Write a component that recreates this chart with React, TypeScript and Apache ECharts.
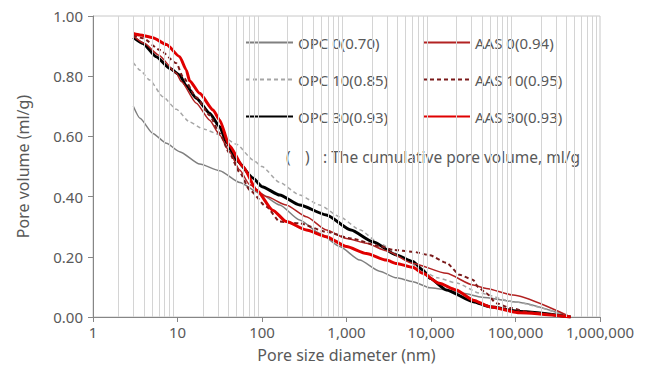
import React, { useEffect, useRef } from "react";
import * as echarts from "echarts";

const opc0: [number, number][] = [
  [3, 0.7], [3.6, 0.66], [5.1, 0.61], [7.4, 0.577], [10.6, 0.549], [18.3, 0.508], [31.6, 0.486],
  [54.5, 0.447], [94, 0.411], [162, 0.372], [279, 0.322], [482, 0.278], [831, 0.234], [1432, 0.189],
  [2460, 0.152], [3900, 0.13], [6100, 0.117], [9700, 0.097], [15200, 0.09], [24000, 0.079],
  [40000, 0.066], [100000, 0.05], [450000, 0],
];
const opc10: [number, number][] = [
  [3, 0.845], [3.6, 0.82], [4.7, 0.787], [6.7, 0.732], [9.7, 0.69], [13.9, 0.648], [20, 0.625],
  [31.6, 0.606], [50, 0.574], [78, 0.522], [100, 0.5], [160, 0.448], [279, 0.405], [482, 0.372],
  [831, 0.333], [1432, 0.29], [2500, 0.243], [5000, 0.192], [8000, 0.152], [12000, 0.13],
  [20000, 0.113], [38000, 0.079], [93000, 0.051], [450000, 0],
];
const opc30: [number, number][] = [
  [3, 0.929], [3.9, 0.909], [5.6, 0.865], [8.1, 0.826], [10.6, 0.804], [12.7, 0.768], [16.7, 0.727],
  [24, 0.677], [31.6, 0.632], [38, 0.58], [50, 0.52], [78, 0.462], [100, 0.433], [162, 0.405],
  [279, 0.372], [577, 0.339], [1130, 0.289], [2060, 0.25], [3900, 0.206], [6100, 0.184],
  [8000, 0.156], [9700, 0.129], [15200, 0.09], [31600, 0.051], [49500, 0.034], [112000, 0.018],
  [450000, 0],
];
const aas0: [number, number][] = [
  [3, 0.934], [4, 0.91], [6, 0.87], [9.7, 0.81], [11.1, 0.782], [16.7, 0.71], [24, 0.654],
  [31.6, 0.605], [41, 0.55], [54.5, 0.488], [71.6, 0.439], [113, 0.4], [194, 0.372], [335, 0.333],
  [577, 0.289], [1000, 0.261], [1720, 0.245], [2960, 0.22], [6100, 0.178], [15200, 0.145],
  [31600, 0.106], [45000, 0.095], [93500, 0.073], [450000, 0],
];
const aas10: [number, number][] = [
  [3, 0.937], [3.9, 0.926], [6.2, 0.887], [9.7, 0.843], [11.6, 0.798], [16.7, 0.73], [24, 0.67],
  [31.6, 0.61], [41, 0.545], [54.5, 0.48], [71.6, 0.422], [113, 0.366], [162, 0.317], [279, 0.311],
  [577, 0.283], [1130, 0.261], [2460, 0.236], [3560, 0.223], [6100, 0.217], [9700, 0.205],
  [15200, 0.18], [21900, 0.14], [31600, 0.123], [36000, 0.1], [45000, 0.079], [59000, 0.046],
  [86000, 0.03], [150000, 0.015], [450000, 0],
];
const aas30: [number, number][] = [
  [3, 0.942], [3.6, 0.937], [5.1, 0.928], [7.4, 0.905], [10.6, 0.865], [12.7, 0.821], [13.9, 0.785],
  [18.3, 0.743], [26.3, 0.688], [31.6, 0.654], [41, 0.57], [59.5, 0.5], [86, 0.422], [134, 0.355],
  [194, 0.317], [335, 0.289], [577, 0.267], [1000, 0.234], [1720, 0.211], [2960, 0.189],
  [3900, 0.178], [6100, 0.165], [8000, 0.145], [12500, 0.112], [19800, 0.09], [31600, 0.056],
  [49500, 0.034], [112000, 0.014], [450000, 0],
];

const seriesNames = ["OPC 0(0.70)", "OPC 10(0.85)", "OPC 30(0.93)", "AAS 0(0.94)", "AAS 10(0.95)", "AAS 30(0.93)"];
const minorGridValues: number[] = [];
for (let e = 0; e < 6; e++) {
  for (let m = 2; m <= 9; m++) minorGridValues.push(m * Math.pow(10, e));
}

const FONT = "Noto Sans";
const TXT = "#595959";

export default function App() {
  const ref = useRef<HTMLDivElement>(null);
  useEffect(() => {
    document.body.style.margin = "0";
    const chart = echarts.init(ref.current!, undefined, { renderer: "svg" });
    const mk = (name: string, data: [number, number][], color: string, width: number, type: any) => ({
      name,
      type: "line",
      data,
      showSymbol: false,
      symbol: "none",
      smooth: 0.2,
      smoothMonotone: "x",
      lineStyle: { color, width, type },
      itemStyle: { color },
      z: 3,
    });
    const legendBase = {
      orient: "vertical",
      top: 30,
      itemWidth: 47,
      itemHeight: 14,
      itemGap: 22,
      itemStyle: { opacity: 0, borderWidth: 0 },
      textStyle: { fontSize: 15, color: TXT, fontFamily: FONT },
    };
    chart.setOption({
      animation: false,
      textStyle: { fontFamily: FONT },
      grid: { left: 93, right: 46, top: 16, bottom: 59, show: true, borderColor: "#c8c8c8", borderWidth: 1, containLabel: false },
      xAxis: {
        type: "log",
        logBase: 10,
        min: 1,
        max: 1000000,
        splitNumber: 6,
        name: "Pore size diameter (nm)",
        nameLocation: "middle",
        nameGap: 30,
        nameTextStyle: { fontSize: 16, color: TXT, fontFamily: FONT },
        axisLine: { lineStyle: { color: "#868686", width: 1 } },
        axisTick: { show: true, inside: false, length: 5, lineStyle: { color: "#868686" } },
        axisLabel: {
          fontSize: 15,
          color: TXT,
          margin: 7,
          fontFamily: FONT,
          formatter: (v: number) => Math.round(v).toLocaleString("en-US"),
        },
        splitLine: { show: false },
      },
      yAxis: {
        type: "value",
        min: 0,
        max: 1,
        interval: 0.2,
        name: "Pore volume (ml/g)",
        nameLocation: "middle",
        nameGap: 62,
        nameTextStyle: { fontSize: 16, color: TXT, fontFamily: FONT },
        axisLine: { show: true, lineStyle: { color: "#868686", width: 1 } },
        axisTick: { show: true, inside: false, length: 5, lineStyle: { color: "#868686" } },
        axisLabel: { fontSize: 15, color: TXT, margin: 10, fontFamily: FONT, formatter: (v: number) => v.toFixed(2) },
        splitLine: { show: false },
      },
      legend: [
        { ...legendBase, data: seriesNames.slice(0, 3), left: 240 },
        { ...legendBase, data: seriesNames.slice(3), left: 417 },
      ],
      graphic: [
        { type: "text", left: 286, top: 149, style: { text: "(", fontSize: 15.5, fill: TXT, fontFamily: FONT } },
        { type: "text", left: 305, top: 149, style: { text: ")", fontSize: 15.5, fill: TXT, fontFamily: FONT } },
        {
          type: "text",
          left: 323,
          top: 149,
          style: { text: ": The cumulative pore volume, ml/g", fontSize: 15.5, fill: TXT, fontFamily: FONT },
        },
      ],
      series: [
        {
          name: "grid",
          type: "line",
          data: [],
          silent: true,
          z: 1,
          markLine: {
            silent: true,
            symbol: "none",
            label: { show: false },
            lineStyle: { color: "#d4d4d4", type: "solid", width: 1 },
            data: minorGridValues.map((v) => ({ xAxis: v })),
          },
        },
        mk(seriesNames[0], opc0, "#808080", 1.5, "solid"),
        mk(seriesNames[1], opc10, "#a6a6a6", 1.5, [4, 3]),
        mk(seriesNames[2], opc30, "#000000", 3, "solid"),
        mk(seriesNames[3], aas0, "#b22222", 1.5, "solid"),
        mk(seriesNames[4], aas10, "#7a1a1a", 2, [4, 3]),
        mk(seriesNames[5], aas30, "#e00000", 3, "solid"),
      ],
    });
    return () => chart.dispose();
  }, []);
  return <div ref={ref} style={{ width: 646, height: 376 }} />;
}
